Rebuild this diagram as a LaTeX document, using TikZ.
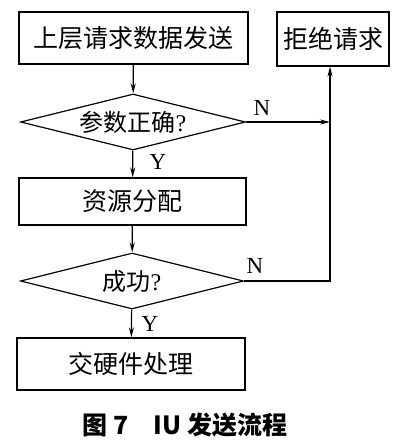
\documentclass[tikz,border=0pt]{standalone}
\usepackage{fontspec}
\setmainfont{Liberation Serif}
\newfontfamily\cjk{Noto Sans CJK SC}
\usetikzlibrary{arrows.meta,shapes.geometric}

\begin{document}
\begin{tikzpicture}[x=1pt,y=-1pt,>={Stealth[length=10pt,width=5pt]},line width=1.2pt,
 procbox/.style={draw,rectangle,inner sep=0pt,font=\cjk\fontsize{25}{28}\selectfont},
 testbox/.style={draw,diamond,aspect=4,inner sep=0pt,font=\cjk\fontsize{24}{27}\selectfont},
 yn/.style={font=\rmfamily\fontsize{23}{26}\selectfont}]
\useasboundingbox (0,0) rectangle (400,443);
\node[procbox,minimum width=229pt,minimum height=52pt] (send) at (133.5,38) {上层请求数据发送};
\node[procbox,minimum width=112pt,minimum height=54pt] (reject) at (333,39) {拒绝请求};
\node[testbox,minimum width=225pt,minimum height=56pt] (chk) at (133,122) {参数正确{\rmfamily ?}};
\node[procbox,minimum width=227pt,minimum height=47pt] (alloc) at (132.5,201.5) {资源分配};
\node[testbox,minimum width=223pt,minimum height=56pt] (ok) at (132,281) {成功{\rmfamily ?}};
\node[procbox,minimum width=228pt,minimum height=52pt] (hw) at (131,364) {交硬件处理};
\coordinate (join) at (330,122);
\coordinate (turn) at (330,281);
\draw[->] (send) -- (chk);
\draw[->] (chk) -- (alloc);
\draw[->] (alloc) -- (ok);
\draw[->] (ok) -- (hw);
\draw[->] (chk.east) -- (join);
\draw[->] (ok.east) -- (turn) -- (reject.south -| turn);
\node[yn] (n1) at (262,108) {N};
\node[yn] (n2) at (255,266) {N};
\node[yn] (y1) at (158,162) {Y};
\node[yn] (y2) at (150,324) {Y};
\node[font=\cjk\bfseries\fontsize{25}{28}\selectfont] (cap) at (185,425) {图 7\quad IU 发送流程};
\end{tikzpicture}
\end{document}
